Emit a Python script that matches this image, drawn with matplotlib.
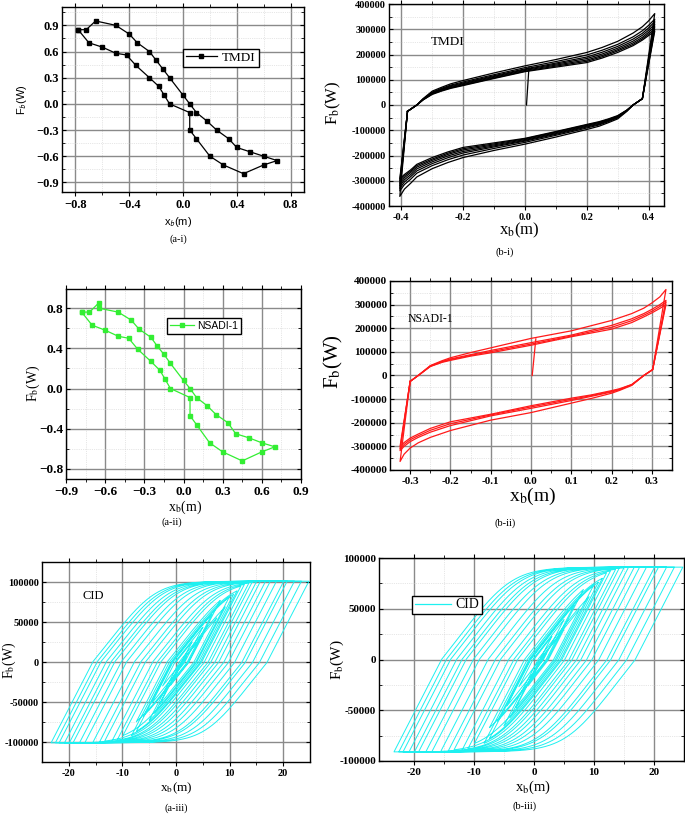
import numpy as np
import matplotlib
matplotlib.use("Agg")
import matplotlib.pyplot as plt
from matplotlib.lines import Line2D
from matplotlib.font_manager import FontProperties

plt.rcParams['font.family'] = ['Liberation Serif', 'DejaVu Serif']
plt.rcParams['mathtext.fontset'] = 'stix'

W, H = 685, 814
fig = plt.figure(figsize=(W / 100, H / 100), dpi=100)

# ---------------- data ----------------
# (a-i) TMDI
TMDI_X = [-0.78, -0.72, -0.65, -0.50, -0.40, -0.34, -0.25, -0.20, -0.15, -0.10,
          0.0, 0.05, 0.10, 0.18, 0.25, 0.34, 0.40, 0.50, 0.60, 0.70,
          0.60, 0.45, 0.30, 0.20, 0.10, 0.05, 0.05, -0.10, -0.14, -0.18,
          -0.25, -0.35, -0.42, -0.50, -0.60, -0.70, -0.78]
TMDI_Y = [0.85, 0.85, 0.95, 0.90, 0.80, 0.70, 0.60, 0.50, 0.40, 0.30,
          0.10, 0.0, -0.10, -0.20, -0.30, -0.40, -0.50, -0.55, -0.60, -0.65,
          -0.70, -0.80, -0.70, -0.60, -0.40, -0.30, -0.10, 0.0, 0.10, 0.20,
          0.30, 0.44, 0.56, 0.58, 0.65, 0.70, 0.85]

# (a-ii) NSADI-1
NSADI_X = [-0.78, -0.72, -0.65, -0.65, -0.50, -0.40, -0.34, -0.25, -0.20, -0.15,
           -0.10, 0.0, 0.05, 0.10, 0.18, 0.25, 0.34, 0.40, 0.50, 0.60,
           0.70, 0.60, 0.45, 0.30, 0.20, 0.10, 0.05, 0.05, -0.10, -0.14,
           -0.18, -0.25, -0.35, -0.42, -0.50, -0.60, -0.70, -0.78]
NSADI_Y = [0.76, 0.76, 0.85, 0.80, 0.76, 0.68, 0.59, 0.51, 0.42, 0.34,
           0.25, 0.08, 0.0, -0.09, -0.17, -0.26, -0.34, -0.45, -0.49, -0.54,
           -0.58, -0.63, -0.72, -0.63, -0.54, -0.36, -0.27, -0.09, 0.0, 0.09,
           0.18, 0.27, 0.39, 0.50, 0.52, 0.58, 0.63, 0.76]

# (b-i) TMDI hysteresis loops: upper-branch x, lower-branch x, upper-branch force per loop
B1_UX = [-0.38, -0.35, -0.33, -0.30, -0.27, -0.24, -0.20, -0.15, -0.10, 0.0,
         0.10, 0.20, 0.25, 0.30, 0.35, 0.38, 0.40, 0.42]
B1_LX = [0.38, 0.35, 0.33, 0.30, 0.27, 0.24, 0.20, 0.15, 0.10, 0.0,
         -0.10, -0.20, -0.25, -0.30, -0.35, -0.37, -0.39, -0.405]
B1_UY = [
    [-25000, 0, 25000, 55000, 70000, 84000, 97000, 112000, 127000, 155000, 180000, 208000, 228000, 252000, 285000, 310000, 333000, 362000],
    [-25000, 0, 23000, 51000, 66000, 79000, 91000, 106000, 120000, 148000, 172000, 198000, 217000, 240000, 270000, 294000, 315000, 340000],
    [-25000, 0, 22000, 49000, 63000, 76000, 87000, 102000, 116000, 143000, 166000, 190000, 209000, 232000, 261000, 284000, 305000, 330000],
    [-25000, 0, 22000, 47000, 61000, 73000, 84000, 99000, 113000, 140000, 162000, 184000, 202000, 225000, 253000, 276000, 296000, 320000],
    [-25000, 0, 21000, 45000, 59000, 70000, 81000, 96000, 110000, 137000, 158000, 178000, 196000, 219000, 246000, 268000, 288000, 310000],
    [-25000, 0, 20000, 44000, 57000, 68000, 79000, 93000, 107000, 134000, 154000, 173000, 191000, 214000, 240000, 262000, 281000, 300000],
    [-25000, 0, 20000, 42000, 55000, 66000, 77000, 91000, 105000, 132000, 150000, 168000, 186000, 208000, 235000, 257000, 275000, 292000],
]
B1_INIT_X = [0.005, 0.013]
B1_INIT_Y = [0, 150000]

# (b-ii) NSADI-1 hysteresis loops
B2_UX = [-0.30, -0.28, -0.25, -0.22, -0.20, -0.15, -0.10, 0.0, 0.10, 0.20,
         0.25, 0.28, 0.30, 0.32, 0.335]
B2_LX = [0.302, 0.28, 0.25, 0.22, 0.20, 0.15, 0.10, 0.0, -0.10, -0.20,
         -0.25, -0.28, -0.30, -0.315, -0.325]
B2_UY = [
    [-25000, 0, 42000, 63000, 75000, 97000, 117000, 157000, 189000, 233000, 262000, 285000, 307000, 333000, 364000],
    [-25000, 0, 40000, 60000, 70000, 88000, 106000, 139000, 171000, 212000, 240000, 262000, 280000, 300000, 318000],
    [-25000, 0, 39000, 58000, 67000, 85000, 101000, 133000, 167000, 204000, 232000, 255000, 272000, 292000, 310000],
    [-25000, 0, 38000, 56000, 64000, 82000, 96000, 128000, 164000, 196000, 224000, 248000, 265000, 284000, 300000],
]
B2_INIT_X = [0.003, 0.012]
B2_INIT_Y = [0, 155000]

# (a-iii)/(b-iii) CID: displacement reversal points read from the loops
CID_REV_X = [3.0, -2.5, 5.0, -4.5, 6.7, -7.4, 8.25, -6.1, 10.0, -9.9, 12.1, -13.3,
             14.2, -15.5, 16.7, -19.2, 20.75, -22.5, 24.8, -23.3, 23.4, -21.8, 22.1,
             -20.8, 20.1, -19.9, 18.75, -18.0, 17.6, -17.0, 15.75, -14.3, 15.0, -12.0,
             13.6, -11.0, 12.75, -8.3, 11.4, -7.4, 10.75, -5.0, 9.2, -4.0, 7.6, -3.0,
             5.0, -1.0, 2.0, 0.0]
# unloading stiffness, loading stiffness, limit force, sharpness (read from slopes/plateaus)
CID_A = dict(ku=13000.0, kl=8400.0, fy=101000.0, n=4.0)
CID_B = dict(ku=11500.0, kl=7600.0, fy=91000.0, n=4.0)


def cid_path(rev, ku, kl, fy, n, step=0.04):
    x, f = 0.0, 0.0
    xs, fs = [x], [f]
    for tgt in rev:
        d = 1.0 if tgt > x else -1.0
        while (tgt - x) * d > 1e-9:
            dx = min(step, abs(tgt - x)) * d
            if f * d < 0:
                slope = ku
            else:
                slope = kl * max(0.0, 1 - abs(f / fy) ** n)
            f += slope * dx
            x += dx
            xs.append(x)
            fs.append(f)
    return xs, fs


def add_ax(l, r, t, b):
    return fig.add_axes([l / W, 1 - b / H, (r - l) / W, (b - t) / H])


def ftxt(px, py, s, **kw):
    fig.text(px / W, 1 - py / H, s, ha='center', va='center', **kw)


def style(ax, xt, xl, yt, yl, fs, xminor=None, yminor=None):
    ax.set_xticks(xt, labels=xl, fontsize=fs, fontweight='bold')
    ax.set_yticks(yt, labels=yl, fontsize=fs, fontweight='bold')
    if xminor is not None:
        ax.set_xticks(xminor, minor=True)
    if yminor is not None:
        ax.set_yticks(yminor, minor=True)
    ax.set_axisbelow(True)
    ax.grid(which='major', color='#8a8a8a', lw=1.0)
    ax.grid(which='minor', color='#cfcfcf', lw=0.5, ls=':')
    ax.tick_params(which='both', top=True, right=True, labeltop=False, labelright=False)
    ax.tick_params(axis='y', which='both', direction='in')
    ax.tick_params(axis='x', which='both', direction='out')
    ax.tick_params(which='major', length=3, width=0.8, pad=2)
    ax.tick_params(which='minor', length=2, width=0.6)
    for s in ax.spines.values():
        s.set_linewidth(1.0)


M = '\u2212'

# ---------------- (a-i) ----------------
ax1 = add_ax(62, 304, 7, 192)
ax1.plot(TMDI_X, TMDI_Y, color='black', lw=0.9, marker='s', ms=3.0)
ax1.set_xlim(-0.9, 0.9)
ax1.set_ylim(-1.01, 1.11)
style(ax1, [-0.8, -0.4, 0.0, 0.4, 0.8], [M + '0.8', M + '0.4', '0.0', '0.4', '0.8'],
      [0.9, 0.6, 0.3, 0.0, -0.3, -0.6, -0.9],
      ['0.9', '0.6', '0.3', '0.0', M + '0.3', M + '0.6', M + '0.9'], 9,
      xminor=[-0.6, -0.2, 0.2, 0.6], yminor=[-0.75, -0.45, -0.15, 0.15, 0.45, 0.75, 1.05])
h1 = Line2D([], [], color='black', lw=0.9, marker='s', ms=3.0)
lg1 = ax1.legend([h1], ['TMDI'], loc='center', bbox_to_anchor=(221 / W, 1 - 58 / H),
                 bbox_transform=fig.transFigure, fancybox=False, edgecolor='black',
                 prop=FontProperties(family='Liberation Serif', size=9.5),
                 handlelength=2.3, borderpad=0.25, handletextpad=0.4, framealpha=1)
lg1.get_frame().set_linewidth(1.0)
ftxt(22, 100, r'F$_{\mathsf{b}}$(W)', rotation=90, fontsize=8, family='Liberation Sans')
ftxt(178, 222, r'x$_{\mathsf{b}}$(m)', fontsize=8, family='Liberation Sans')
ftxt(178, 239, '(a-i)', fontsize=7.5)

# ---------------- (b-i) ----------------
ax2 = add_ax(389, 664, 4, 206)
for uy in B1_UY:
    xs = B1_UX + B1_LX + [B1_UX[0]]
    ys = uy + [-v for v in uy] + [uy[0]]
    ax2.plot(xs, ys, color='black', lw=0.9)
ax2.plot(B1_INIT_X, B1_INIT_Y, color='black', lw=0.9)
ax2.set_xlim(-0.44, 0.45)
ax2.set_ylim(-400000, 400000)
yt = [-400000, -300000, -200000, -100000, 0, 100000, 200000, 300000, 400000]
style(ax2, [-0.4, -0.2, 0.0, 0.2, 0.4], ['-0.4', '-0.2', '0.0', '0.2', '0.4'],
      yt, [str(v) for v in yt], 7.5,
      xminor=[-0.3, -0.1, 0.1, 0.3], yminor=[-350000, -250000, -150000, -50000, 50000, 150000, 250000, 350000])
ax2.text(-0.25, 250000, 'TMDI', fontsize=9.5, ha='center', va='center')
ftxt(333, 103, r'F$_{\mathrm{b}}$(W)', rotation=90, fontsize=12)
ftxt(519, 230, r'x$_{\mathrm{b}}$(m)', fontsize=12)
ftxt(505, 252, '(b-i)', fontsize=7.5)

# ---------------- (a-ii) ----------------
ax3 = add_ax(66, 301, 289, 479)
ax3.plot(NSADI_X, NSADI_Y, color='#33ee33', lw=0.9, marker='s', ms=3.2)
ax3.set_xlim(-0.9, 0.9)
ax3.set_ylim(-0.9, 0.99)
style(ax3, [-0.9, -0.6, -0.3, 0.0, 0.3, 0.6, 0.9],
      [M + '0.9', M + '0.6', M + '0.3', '0.0', '0.3', '0.6', '0.9'],
      [0.8, 0.4, 0.0, -0.4, -0.8], ['0.8', '0.4', '0.0', M + '0.4', M + '0.8'], 9.5,
      xminor=[-0.75, -0.45, -0.15, 0.15, 0.45, 0.75], yminor=[-0.6, -0.2, 0.2, 0.6])
h3 = Line2D([], [], color='#33ee33', lw=0.9, marker='s', ms=3.2)
lg3 = ax3.legend([h3], ['NSADI-1'], loc='center', bbox_to_anchor=(204 / W, 1 - 326 / H),
                 bbox_transform=fig.transFigure, fancybox=False, edgecolor='black',
                 prop=FontProperties(family='Liberation Sans', size=7.5),
                 handlelength=2.3, borderpad=0.25, handletextpad=0.3, framealpha=1)
lg3.get_frame().set_linewidth(1.0)
ftxt(33, 383, r'F$_{\mathrm{b}}$(W)', rotation=90, fontsize=10)
ftxt(185, 507, r'x$_{\mathrm{b}}$(m)', fontsize=10)
ftxt(172, 522, '(a-ii)', fontsize=7.5)

# ---------------- (b-ii) ----------------
ax4 = add_ax(390, 672, 281, 470)
for uy in B2_UY:
    xs = B2_UX + B2_LX + [B2_UX[0]]
    ys = uy + [-v for v in uy] + [uy[0]]
    ax4.plot(xs, ys, color='#ff1a1a', lw=0.9)
ax4.plot(B2_INIT_X, B2_INIT_Y, color='#ff1a1a', lw=0.9)
ax4.set_xlim(-0.35, 0.35)
ax4.set_ylim(-400000, 400000)
style(ax4, [-0.3, -0.2, -0.1, 0.0, 0.1, 0.2, 0.3],
      ['-0.3', '-0.2', '-0.1', '0.0', '0.1', '0.2', '0.3'],
      yt, [str(v) for v in yt], 8,
      xminor=[-0.25, -0.15, -0.05, 0.05, 0.15, 0.25],
      yminor=[-350000, -250000, -150000, -50000, 50000, 150000, 250000, 350000])
ax4.text(-0.25, 240000, 'NSADI-1', fontsize=8.5, ha='center', va='center')
ftxt(333, 362, r'F$_{\mathrm{b}}$(W)', rotation=90, fontsize=15)
ftxt(533, 496, r'x$_{\mathrm{b}}$(m)', fontsize=14)
ftxt(505, 523, '(b-ii)', fontsize=7.5)

# ---------------- (a-iii) ----------------
ax5 = add_ax(42, 310, 562, 762)
cx, cf = cid_path(CID_REV_X, **CID_A)
ax5.plot(cx, cf, color='#1ef0f0', lw=0.7)
ax5.set_xlim(-25, 25)
ax5.set_ylim(-125000, 125000)
yt5 = [-100000, -50000, 0, 50000, 100000]
style(ax5, [-20, -10, 0, 10, 20], ['-20', '-10', '0', '10', '20'],
      yt5, [str(v) for v in yt5], 7.5,
      xminor=[-15, -5, 5, 15], yminor=[-125000, -75000, -25000, 25000, 75000, 125000])
ax5.text(-15.5, 82000, 'CID', fontsize=9, ha='center', va='center')
ftxt(9, 660, r'F$_{\mathrm{b}}$(W)', rotation=90, fontsize=10)
ftxt(176, 788, r'x$_{\mathrm{b}}$(m)', fontsize=9.5)
ftxt(176, 808, '(a-iii)', fontsize=7.5)

# ---------------- (b-iii) ----------------
ax6 = add_ax(379, 684, 558, 761)
bx, bf = cid_path(CID_REV_X, **CID_B)
ax6.plot(bx, bf, color='#1ef0f0', lw=0.7)
ax6.set_xlim(-25.8, 25)
ax6.set_ylim(-100000, 100000)
yt6 = [-100000, -50000, 0, 50000, 100000]
style(ax6, [-20, -10, 0, 10, 20], ['-20', '-10', '0', '10', '20'],
      yt6, [str(v) for v in yt6], 8,
      xminor=[-15, -5, 5, 15], yminor=[-75000, -25000, 25000, 75000])
h6 = Line2D([], [], color='#1ef0f0', lw=0.9)
lg6 = ax6.legend([h6], ['CID'], loc='center', bbox_to_anchor=(447 / W, 1 - 605 / H),
                 bbox_transform=fig.transFigure, fancybox=False, edgecolor='black',
                 prop=FontProperties(family='Liberation Serif', size=10),
                 handlelength=2.6, borderpad=0.2, handletextpad=0.3, framealpha=1)
lg6.get_frame().set_linewidth(1.0)
ftxt(337, 660, r'F$_{\mathrm{b}}$(W)', rotation=90, fontsize=11)
ftxt(533, 787, r'x$_{\mathrm{b}}$(m)', fontsize=10.5)
ftxt(525, 806, '(b-iii)', fontsize=7.5)

fig.savefig('out.png', dpi=100)
